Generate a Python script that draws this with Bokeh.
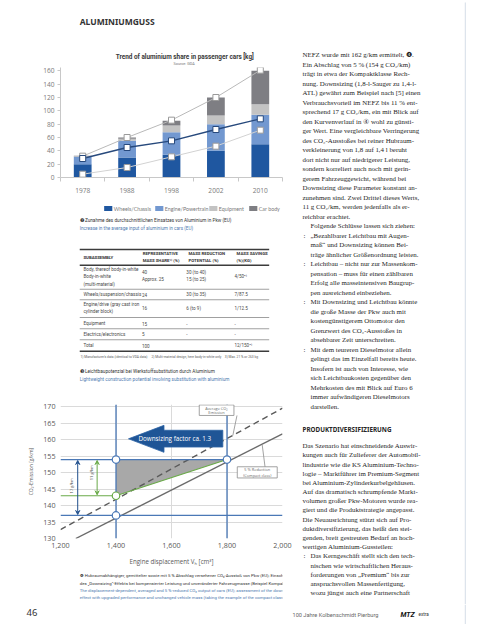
import math
from bokeh.plotting import figure
from bokeh.models import (Range1d, ColumnDataSource, FixedTicker, NumeralTickFormatter, Arrow, VeeHead)
from bokeh.layouts import row, column
from bokeh.embed import file_html
from bokeh.resources import INLINE
from bokeh.core.properties import value

# ---------------- data: figure 2 (stacked bars) ----------------
years = ["1978", "1988", "1998", "2002", "2010"]
wheels_chassis = [20, 30, 34, 40, 50]
engine_powertrain = [11, 25, 34, 40, 44]
equipment = [1, 3, 10, 13, 16]
car_body = [0.5, 2, 7, 27, 50]
marker_upper = [32, 60, 86, 120, 161]
marker_middle = [28.5, 45, 55, 72, 88]
marker_lower = [5, 15, 31, 47, 71]
series_names = ["Wheels/Chassis", "Engine/Powertrain", "Equipment", "Car body"]
bar_y_ticks = [0, 20, 40, 60, 80, 100, 120, 140, 160]

# ---------------- data: table 3 ----------------
col_subassembly = ["Body, thereof body-in-white", "Body-in-white", "(multi-material)",
                   "Wheels/suspension/chassis", "Engine/drive (gray cast iron",
                   "cylinder block)", "Equipment", "Electrics/electronics", "Total"]
col_mass_share = ["40", "Approx. 25", "24", "16", "15", "5", "100"]
col_reduction = ["30 (to 40)", "15 (to 25)", "30 (to 35)", "6 (to 9)", "-", "-"]
col_savings = ["4/50²⁾", "7/87.5", "1/12.5", "-", "-", "12/150³⁾"]

# ---------------- data: figure 4 (CO2 vs displacement) ----------------
disp_average = [1200, 2000]
co2_average = [132.7, 169.6]
disp_reduced = [1255, 2000]
co2_reduced = [130.0, 161.8]
co2_start = 154
co2_downsized = 137
co2_lightweight = 143
disp_large = 1800
disp_small = 1400
line_x_ticks = [1200, 1400, 1600, 1800, 2000]
line_y_ticks = [130, 135, 140, 145, 150, 155, 160, 165, 170]

SANS = "Roboto"
CHART = "Open Sans"
LEG = "Lato"
SERIF = "Liberation Serif"
BLUE_CAP = "#4f7bb0"
bar_colors = ["#1f57a0", "#7298d0", "#c3c3c3", "#7e7e83"]


def canvas(w, h, x0, y0):
    f = figure(width=w, height=h, x_range=Range1d(x0, x0 + w), y_range=Range1d(y0 + h, y0),
               output_backend="svg", toolbar_location=None, min_border=0,
               x_axis_location=None, y_axis_location=None)
    f.grid.visible = False
    f.outline_line_color = None
    return f


def txt(f, xs, ys, ts, size, color="#333333", font=SANS, style="normal",
        align="left", baseline="middle", angle=0.0):
    src = ColumnDataSource(dict(x=list(xs), y=list(ys), t=list(ts)))
    f.text(x="x", y="y", text="t", source=src, text_font=value(font),
           text_font_size=value(f"{size}px"), text_color=color,
           text_font_style=style, text_align=align, text_baseline=baseline, angle=angle)


# ================= top canvas: header + chart title =================
top = canvas(300, 66, 8, 8)
txt(top, [34], [28.5], ["ALUMINIUMGUSS"], 8.5, "#333333", "Noto Sans", "bold")
txt(top, [177], [64], ["Trend of aluminium share in passenger cars  [kg]"], 6.4,
    "#3a3a3a", SANS, "bold", "center")
txt(top, [175], [70.8], ["Source: GDA"], 3.8, "#777777", SANS, "normal", "center")

# ================= bar chart =================
x_pos = list(range(len(years)))
pb = figure(width=300, height=131, x_range=Range1d(-0.5, 4.5), y_range=Range1d(0, 165),
            output_backend="svg", toolbar_location=None,
            min_border_left=44, min_border_right=8, min_border_top=1, min_border_bottom=20)
src = ColumnDataSource(dict(x=x_pos, wheels=wheels_chassis, engine=engine_powertrain,
                            equip=equipment, body=car_body))
rs = pb.vbar_stack(["wheels", "engine", "equip", "body"], x="x", width=0.4, source=src,
                   color=bar_colors, line_color=None)
pb.line(x_pos, marker_upper, line_color="#b9b9b9", line_width=1)
pb.line(x_pos, marker_middle, line_color="#27497c", line_width=1.3)
pb.line(x_pos, marker_lower, line_color="#d2d2d2", line_width=1)
for ys, lc in ((marker_upper, "#9a9a9a"), (marker_middle, "#27497c"), (marker_lower, "#9a9a9a")):
    pb.scatter(x_pos, ys, marker="square", size=6, fill_color="white", line_color=lc,
               line_width=1)
pb.grid.visible = False
pb.outline_line_color = None
pb.yaxis.ticker = FixedTicker(ticks=bar_y_ticks)
pb.yaxis.axis_line_color = "#c8c8c8"
pb.yaxis.major_tick_line_color = "#c8c8c8"
pb.yaxis.major_tick_out = 3
pb.yaxis.major_tick_in = 0
pb.yaxis.minor_tick_line_color = None
pb.yaxis.major_label_standoff = 3
pb.xaxis.ticker = FixedTicker(ticks=x_pos, minor_ticks=[-0.5, 0.5, 1.5, 2.5, 3.5, 4.5])
pb.xaxis.major_label_overrides = {i: y for i, y in zip(x_pos, years)}
pb.xaxis.axis_line_color = "#c8c8c8"
pb.xaxis.major_tick_line_color = None
pb.xaxis.major_tick_out = 0
pb.xaxis.major_tick_in = 0
pb.xaxis.minor_tick_line_color = "#c8c8c8"
pb.xaxis.minor_tick_out = 4
pb.xaxis.minor_tick_in = 0
pb.xaxis.major_label_standoff = 6
for ax in (pb.xaxis, pb.yaxis):
    ax.major_label_text_font = CHART
    ax.major_label_text_font_size = "6.6px"
    ax.major_label_text_color = "#7a7a7a"

# ================= legend + captions + table =================
tb = canvas(300, 187, 8, 205)
key_left = [67, 136, 209, 263]
key_row = 216
tb.rect(x=[k + 5.5 for k in key_left], y=[key_row] * 4, width=11, height=5,
        fill_color=bar_colors, line_color=None)
txt(tb, [k + 13 for k in key_left], [key_row] * 4, series_names, 5.3, "#7a7a7a", LEG)

txt(tb, [34], [228.3], ["❷ Zunahme des durchschnittlichen Einsatzes von Aluminium in Pkw (EU)"],
    4.7, "#333333")
txt(tb, [34], [235.8], ["Increase in the average input of aluminium in cars (EU)"], 4.7, BLUE_CAP)

thick_y = [257, 272.7, 358.7]
thin_y = [296.8, 307.3, 325.0, 336.2, 347.3]
tb.segment(x0=[34] * 3, x1=[290] * 3, y0=thick_y, y1=thick_y, line_color="#3c3c3c", line_width=1.6)
tb.segment(x0=[34] * 5, x1=[290] * 5, y0=thin_y, y1=thin_y, line_color="#a0a0a0", line_width=1.1)
txt(tb, [39, 119, 119, 181, 181, 246, 246], [264.8, 261, 268.4, 261, 268.4, 261, 268.4],
    ["SUBASSEMBLY", "REPRESENTATIVE", "MASS SHARE¹⁾ (%)", "MASS REDUCTION",
     "POTENTIAL (%)", "MASS SAVINGS", "(%)(KG)"], 4.3, "#333333", SANS, "bold")
txt(tb, [39] * 9, [277, 284.3, 291.7, 302, 311.7, 319, 331, 341.7, 353], col_subassembly,
    4.6, "#4a4a4a")
txt(tb, [118] * 7, [279.5, 287.3, 302, 315.5, 331, 341.7, 353], col_mass_share, 4.6, "#4a4a4a")
txt(tb, [178] * 6, [279.5, 287.3, 302, 315.5, 331, 341.7], col_reduction, 4.6, "#4a4a4a")
txt(tb, [243] * 6, [283.5, 302, 315.5, 331, 341.7, 353], col_savings, 4.6, "#4a4a4a")
txt(tb, [35, 131, 230], [364.7] * 3,
    ["1) Manufacturer's data (identical to VDA data)",
     "2) Multi-material design, here body-in-white only", "3) Max. 21 % or 263 kg"],
    3.3, "#5a5a5a")
txt(tb, [34], [379.3], ["❸ Leichtbaupotenzial bei Werkstoffsubstitution durch Aluminium"],
    4.7, "#333333")
txt(tb, [34], [386.7], ["Lightweight construction potential involving substitution with aluminium"],
    4.7, BLUE_CAP)

# ================= line chart =================
pl = figure(width=300, height=186, x_range=Range1d(1200, 2000), y_range=Range1d(130, 170.73),
            output_backend="svg", toolbar_location=None,
            min_border_left=60, min_border_right=18, min_border_top=20, min_border_bottom=32)
pl.outline_line_color = None
pl.xaxis.ticker = FixedTicker(ticks=line_x_ticks)
pl.yaxis.ticker = FixedTicker(ticks=line_y_ticks)
pl.xaxis.formatter = NumeralTickFormatter(format="0,0")
pl.grid.grid_line_color = "#dadada"
pl.grid.grid_line_width = 1
for ax in (pl.xaxis, pl.yaxis):
    ax.axis_line_color = None
    ax.major_tick_line_color = None
    ax.minor_tick_line_color = None
    ax.major_tick_out = 0
    ax.major_tick_in = 0
    ax.major_label_text_font = CHART
    ax.major_label_text_font_size = "7.2px"
    ax.major_label_text_color = "#595959"
    ax.axis_label_text_font = CHART
    ax.axis_label_text_font_style = "normal"
    ax.axis_label_text_color = "#595959"
pl.xaxis.major_label_standoff = 4
pl.yaxis.major_label_standoff = 5
pl.xaxis.axis_label = "Engine displacement Vₕ [cm³]"
pl.xaxis.axis_label_text_font_size = "6.2px"
pl.xaxis.axis_label_standoff = 6
pl.yaxis.axis_label = "CO₂-Emission [g/km]"
pl.yaxis.axis_label_text_font_size = "5.0px"
pl.yaxis.axis_label_standoff = 6

pl.patch([disp_small, disp_large, disp_small], [co2_start, co2_start, co2_lightweight],
         fill_color="#a8a8a8", line_color=None)
pl.line(disp_average, co2_average, line_color="#5a5a5a", line_width=1.4, line_dash="6 4")
pl.line(disp_reduced, co2_reduced, line_color="#6a6a6a", line_width=1.4)
BL = "#4a78b6"
GR = "#6aaa48"
pl.segment(x0=[disp_small, disp_large], x1=[disp_small, disp_large], y0=[130, 130],
           y1=[170.73, 170.73], line_color=BL, line_width=1.3)
pl.segment(x0=[1200, 1200], x1=[disp_large, 2000], y0=[co2_start, co2_downsized],
           y1=[co2_start, co2_downsized], line_color=BL, line_width=1.3)
pl.segment(x0=[1200, disp_small], x1=[disp_small, disp_large],
           y0=[co2_lightweight, co2_lightweight], y1=[co2_lightweight, co2_start],
           line_color=GR, line_width=1.1)
pl.add_layout(Arrow(start=VeeHead(size=4, line_color="#1f4e8c", fill_color="#1f4e8c"),
                    end=VeeHead(size=4, line_color="#1f4e8c", fill_color="#1f4e8c"),
                    x_start=1262, y_start=co2_downsized + 0.3, x_end=1262, y_end=co2_start - 0.3,
                    line_color="#1f4e8c", line_width=1))
pl.add_layout(Arrow(start=VeeHead(size=4, line_color=GR, fill_color=GR),
                    end=VeeHead(size=4, line_color=GR, fill_color=GR),
                    x_start=1332, y_start=co2_lightweight + 0.3, x_end=1332, y_end=co2_start - 0.3,
                    line_color=GR, line_width=1))
txt(pl, [1241], [146], [f"{co2_start - co2_downsized} g/km"], 4.0, "#555555", CHART,
    "normal", "center", "middle", math.pi / 2)
txt(pl, [1313], [150], [f"{co2_start - co2_lightweight} g/km"], 4.0, "#555555", CHART,
    "normal", "center", "middle", math.pi / 2)
pl.scatter([disp_small, disp_large, disp_small], [co2_start, co2_start, co2_downsized],
           size=7.5, fill_color="white", line_color=BL, line_width=1.2)
pl.scatter([disp_small], [co2_lightweight], size=7.5, fill_color="white", line_color=GR,
           line_width=1.2)
ax_ = [1445, 1573, 1573, 1785, 1785, 1573, 1573]
ay_ = [160.3, 164.4, 162.9, 162.9, 157.8, 157.8, 156.2]
pl.patch(ax_, ay_, fill_color="#1f5596", line_color="#2f65a6", line_width=0.8)
txt(pl, [1612], [160.35], ["Downsizing factor ca. 1.3"], 6.3, "white", CHART, "normal", "center")
pl.quad(left=[1700, 1837], right=[1825, 1981], bottom=[167.4, 148.4], top=[170.6, 151.8],
        fill_color="white", line_color="#8c8c8c", line_width=0.8)
pl.segment(x0=[1836, 1937], y0=[167.4, 151.8], x1=[1821, 1927], y1=[161.3, 158.4],
           line_color="#8c8c8c", line_width=0.8)
txt(pl, [1762, 1762, 1909, 1909], [169.6, 168.3, 150.9, 149.3],
    ["Average CO₂", "Emission", "5 % Reduction", "(Compact class)"], 3.9, "#666666",
    CHART, "normal", "center")

# ================= caption 4 =================
cap = canvas(300, 34, 8, 578)
txt(cap, [34, 34], [583.3, 590.5],
    ["❹ Hubraumabhängiger, gemittelter sowie mit 5 % Abschlag versehener CO₂-Ausstoß von Pkw (EU); Einschätzung",
     "des „Downsizing“-Effekts bei kompensierter Leistung und unveränderter Fahrzeugmasse (Beispiel Kompaktklasse)"],
    4.35, "#333333")
txt(cap, [34, 34], [597.7, 604.9],
    ["The displacement-dependent, averaged and 5 %-reduced CO₂ output of cars (EU); assessment of the downsizing",
     "effect with upgraded performance and unchanged vehicle mass (taking the example of the compact class)"],
    4.35, BLUE_CAP)

# ================= right text column =================
rc = canvas(166, 604, 308, 8)
upper = [
    (0, "NEFZ wurde mit 162 g/km ermittelt, ❹."),
    (0, "Ein Abschlag von 5 % (154 g CO₂/km)"),
    (0, "trägt in etwa der Kompaktklasse Rech-"),
    (0, "nung. Downsizing (1,8-l-Sauger zu 1,4-l-"),
    (0, "ATL) gewährt zum Beispiel nach [5] einen"),
    (0, "Verbrauchsvorteil im NEFZ bis 11 % ent-"),
    (0, "sprechend 17 g CO₂/km, ein mit Blick auf"),
    (0, "den Kurvenverlauf in ④ wohl zu günsti-"),
    (0, "ger Wert. Eine vergleichbare Verringerung"),
    (0, "des CO₂-Ausstoßes bei reiner Hubraum-"),
    (0, "verkleinerung von 1,8 auf 1,4 l beruht"),
    (0, "dort nicht nur auf niedrigerer Leistung,"),
    (0, "sondern korreliert auch noch mit gerin-"),
    (0, "gerem Fahrzeuggewicht, während bei"),
    (0, "Downsizing diese Parameter konstant an-"),
    (0, "zunehmen sind. Zwei Drittel dieses Werts,"),
    (0, "11 g CO₂/km, werden jedenfalls als er-"),
    (0, "reichbar erachtet."),
    (1, "Folgende Schlüsse lassen sich ziehen:"),
    (2, "„Bezahlbarer Leichtbau mit Augen-"),
    (1, "maß“ und Downsizing können Bei-"),
    (1, "träge ähnlicher Größenordnung leisten."),
    (2, "Leichtbau – nicht nur zur Massenkom-"),
    (1, "pensation – muss für einen zählbaren"),
    (1, "Erfolg alle masseintensiven Baugrup-"),
    (1, "pen ausreichend einbeziehen."),
    (2, "Mit Downsizing und Leichtbau könnte"),
    (1, "die große Masse der Pkw auch mit"),
    (1, "kostengünstigerem Ottomotor den"),
    (1, "Grenzwert des CO₂-Ausstoßes in"),
    (1, "absehbarer Zeit unterschreiten."),
    (2, "Mit dem teureren Dieselmotor allein"),
    (1, "gelingt das im Einzelfall bereits heute."),
    (1, "Insofern ist auch von Interesse, wie"),
    (1, "sich Leichtbaukosten gegenüber den"),
    (1, "Mehrkosten des mit Blick auf Euro 6"),
    (1, "immer aufwändigeren Dieselmotors"),
    (1, "darstellen."),
]
lower = [
    (0, "Das Szenario hat einschneidende Auswir-"),
    (0, "kungen auch für Zulieferer der Automobil-"),
    (0, "lindustrie wie die KS Aluminium-Techno-"),
    (0, "logie – Marktführer im Premium-Segment"),
    (0, "bei Aluminium-Zylinderkurbelgehäusen."),
    (0, "Auf das dramatisch schrumpfende Markt-"),
    (0, "volumen großer Pkw-Motoren wurde rea-"),
    (0, "giert und die Produktstrategie angepasst."),
    (0, "Die Neuausrichtung stützt sich auf Pro-"),
    (0, "duktdiversifizierung, das heißt den stei-"),
    (0, "genden, breit gestreuten Bedarf an hoch-"),
    (0, "wertigen Aluminium-Gussteilen:"),
    (2, "Das Kerngeschäft stellt sich den tech-"),
    (1, "nischen wie wirtschaftlichen Heraus-"),
    (1, "forderungen von „Premium“ bis zur"),
    (1, "anspruchsvollen Massenfertigung,"),
    (1, "wozu jüngst auch eine Partnerschaft"),
]
bx, by, bt, mx, my = [], [], [], [], []
for i, (ind, t) in enumerate(upper):
    y = 62.3 + 9.5 * i
    bx.append(310 if ind == 0 else 318)
    by.append(y)
    bt.append(t)
    if ind == 2:
        mx.append(311)
        my.append(y)
for j, (ind, t) in enumerate(lower):
    y = 453.3 + 9.17 * j
    bx.append(310 if ind == 0 else 318)
    by.append(y)
    bt.append(t)
    if ind == 2:
        mx.append(311)
        my.append(y)
txt(rc, bx, by, bt, 6.9, "#262626", SERIF)
txt(rc, mx, my, [":"] * len(mx), 6.9, "#262626", SERIF)
txt(rc, [310], [437.3], ["PRODUKTDIVERSIFIZIERUNG"], 6.3, "#262626", "Noto Sans", "bold")
rc.segment(x0=[473], x1=[473], y0=[10], y1=[612], line_color="#dde4ec", line_width=1.5)

# ================= footer =================
ft = canvas(466, 20, 8, 612)
txt(ft, [34], [619.5], ["46"], 9.5, "#333333", "Noto Sans")
txt(ft, [300], [622], ["100 Jahre Kolbenschmidt Pierburg"], 5.6, "#666666", SANS)
txt(ft, [408], [622], ["MTZ"], 7, "#111111", SANS, "bold italic")
txt(ft, [426], [622.3], ["extra"], 4.6, "#333333", SANS)
ft.segment(x0=[473], x1=[473], y0=[612], y1=[632], line_color="#dde4ec", line_width=1.5)

left = column(top, pb, tb, pl, cap, spacing=0)
page = column(row(left, rc, spacing=0), ft, spacing=0)

open("out.html", "w").write(file_html(page, INLINE))
